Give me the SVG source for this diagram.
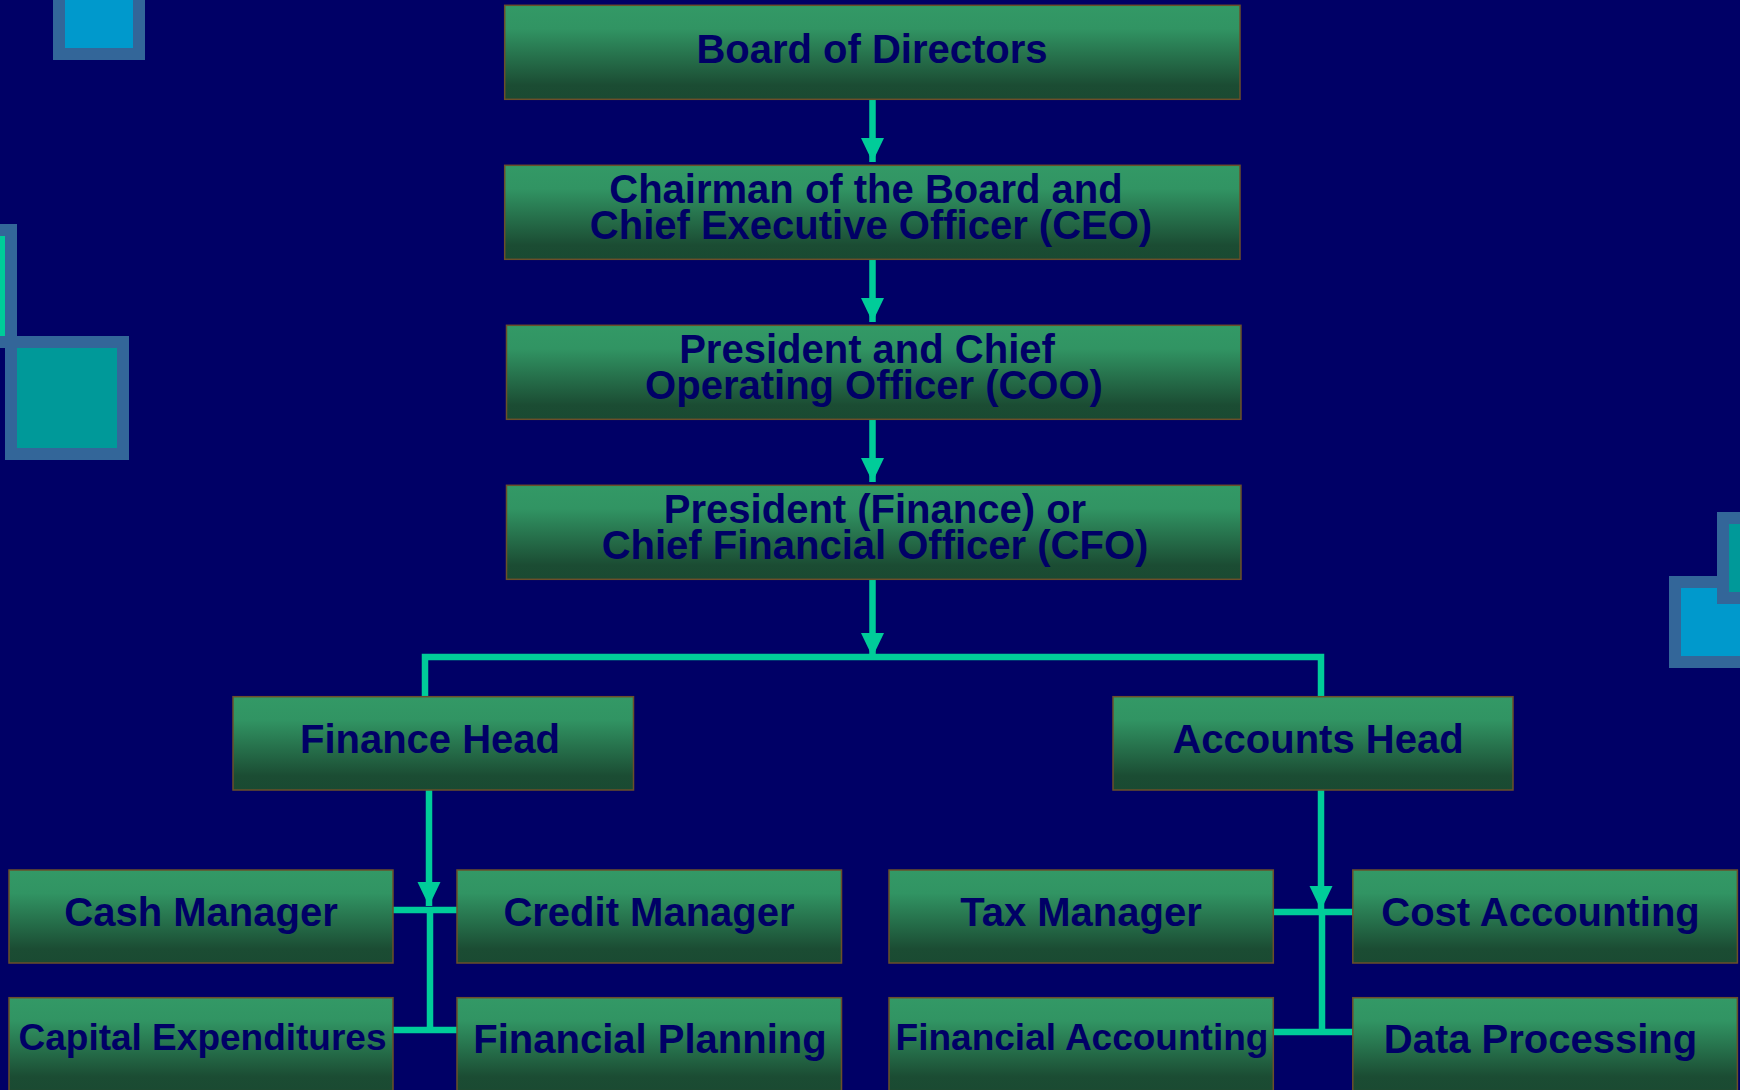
<svg xmlns="http://www.w3.org/2000/svg" width="1740" height="1090" viewBox="0 0 1740 1090">
<defs>
<linearGradient id="g" x1="0" y1="0" x2="0" y2="1">
<stop offset="0" stop-color="#339966"/>
<stop offset="0.25" stop-color="#319463"/>
<stop offset="0.85" stop-color="#1B4C33"/>
<stop offset="1" stop-color="#1A4A32"/>
</linearGradient>
<marker id="ah" markerUnits="userSpaceOnUse" markerWidth="24" markerHeight="24" viewBox="0 -12 24 24" refX="24" refY="0" orient="auto">
<path d="M0,-11.5 L24,0 L0,11.5 z" fill="#00CC99"/>
</marker>
<style>
.n{fill:url(#g);stroke:#6B4F2A;stroke-width:1.5}
.t{font-family:"Liberation Sans",Arial,Helvetica,sans-serif;font-weight:bold;font-size:40px;fill:#000066;text-anchor:middle}
.s{font-size:37px}
.c{fill:none;stroke:#00CC99;stroke-width:6.5}
.bd{fill:#336699}
</style>
</defs>
<rect x="0" y="0" width="1740" height="1090" fill="#000066"/>
<g id="decor">
<rect class="bd" x="53" y="-40" width="92" height="100"/>
<rect x="65" y="-40" width="68" height="88" fill="#0099CC"/>
<rect class="bd" x="-100" y="224" width="117" height="124"/>
<rect x="-100" y="236" width="105" height="100" fill="#00CC99"/>
<rect class="bd" x="5" y="336" width="124" height="124"/>
<rect x="17" y="348" width="100" height="100" fill="#009999"/>
<rect class="bd" x="1669" y="576" width="124" height="92"/>
<rect x="1681" y="588" width="100" height="68" fill="#0099CC"/>
<rect class="bd" x="1717" y="512" width="124" height="92"/>
<rect x="1729" y="524" width="100" height="68" fill="#009999"/>
</g>
<g id="connectors">
<path class="c" d="M872.5,99 V162" marker-end="url(#ah)"/>
<path class="c" d="M872.5,259 V322" marker-end="url(#ah)"/>
<path class="c" d="M872.5,419 V482" marker-end="url(#ah)"/>
<path class="c" d="M872.5,579 V657" marker-end="url(#ah)"/>
<path class="c" d="M425,697 V657 H1321 V697"/>
<path class="c" d="M429,790 V906" marker-end="url(#ah)"/>
<path class="c" d="M393,910 H457 M430,910 V1030 M393,1030 H457"/>
<path class="c" d="M1321,790 V910" marker-end="url(#ah)"/>
<path class="c" d="M1273,912 H1353 M1322,912 V1032 M1273,1032 H1353"/>
</g>
<g id="board"><rect class="n" x="504.7" y="5.3" width="735.3" height="94"/><text class="t" x="872" y="62.5">Board of Directors</text></g>
<g id="ceo"><rect class="n" x="504.7" y="165.3" width="735.3" height="94"/><text class="t" x="866" y="203">Chairman of the Board and</text><text class="t" x="871" y="239">Chief Executive Officer (CEO)</text></g>
<g id="coo"><rect class="n" x="506.5" y="325.3" width="734.5" height="94"/><text class="t" x="867" y="363">President and Chief</text><text class="t" x="874" y="399">Operating Officer (COO)</text></g>
<g id="cfo"><rect class="n" x="506.5" y="485.3" width="734.5" height="94"/><text class="t" x="875" y="523">President (Finance) or</text><text class="t" x="875" y="559">Chief Financial Officer (CFO)</text></g>
<g id="finance-head"><rect class="n" x="233" y="696.7" width="400.5" height="93.3"/><text class="t" x="430" y="752.7">Finance Head</text></g>
<g id="accounts-head"><rect class="n" x="1113" y="696.7" width="400" height="93.3"/><text class="t" x="1318" y="752.7">Accounts Head</text></g>
<g id="cash-manager"><rect class="n" x="9" y="870" width="384" height="93"/><text class="t" x="201" y="926">Cash Manager</text></g>
<g id="credit-manager"><rect class="n" x="457" y="870" width="384.5" height="93"/><text class="t" x="649" y="926">Credit Manager</text></g>
<g id="capital-expenditures"><rect class="n" x="9" y="997.7" width="384" height="93"/><text class="t s" x="202.5" y="1050">Capital Expenditures</text></g>
<g id="financial-planning"><rect class="n" x="457" y="997.7" width="384.5" height="93"/><text class="t" x="650" y="1052.5">Financial Planning</text></g>
<g id="tax-manager"><rect class="n" x="889" y="870" width="384.3" height="93"/><text class="t" x="1081" y="926">Tax Manager</text></g>
<g id="cost-accounting"><rect class="n" x="1352.8" y="870" width="384.6" height="93"/><text class="t" x="1540.5" y="926">Cost Accounting</text></g>
<g id="financial-accounting"><rect class="n" x="889" y="997.7" width="384.3" height="93"/><text class="t s" x="1082" y="1050">Financial Accounting</text></g>
<g id="data-processing"><rect class="n" x="1352.8" y="997.7" width="384.6" height="93"/><text class="t" x="1540.5" y="1052.5">Data Processing</text></g>
</svg>
